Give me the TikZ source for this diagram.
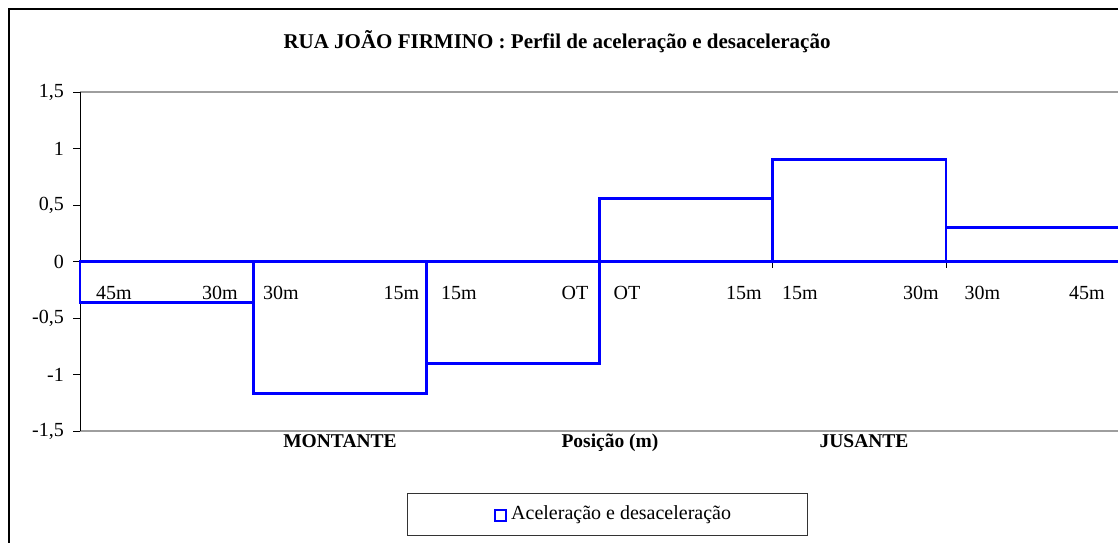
\documentclass[tikz,border=0pt]{standalone}
\usepackage{fontspec}
\setmainfont{Liberation Serif}
\begin{document}
\begin{tikzpicture}[x=1pt,y=-1pt,
  lbl/.style={font=\fontsize{20}{24}\selectfont, inner sep=0pt},
  axtitle/.style={font=\bfseries\fontsize{19.5}{23}\selectfont, inner sep=0pt, anchor=base},
  serie/.style={draw=blue, line width=2.8pt},
  grid/.style={draw=black!38, line width=1.4pt},
  axis/.style={draw=black, line width=1pt}]
\useasboundingbox (0,0) rectangle (1118,542);
\clip (0,0) rectangle (1118,542);
% outer frame
\draw[line width=1.5pt] (9,9) rectangle (1140,570);
% title
\node[font=\bfseries\fontsize{21}{25}\selectfont, inner sep=0pt] (title) at (557,42) {RUA JOÃO FIRMINO : Perfil de aceleração e desaceleração};
% plot area lines
\draw[grid] (80,92) -- (1125,92);
\draw[grid] (80,431) -- (1125,431);
\draw[axis] (80,92) -- (80,431);
% y ticks and labels
\foreach \v/\t in {1.5/{1,5},1/1,0.5/{0,5},0/0,-0.5/{-0,5},-1/-1,-1.5/{-1,5}}{
  \draw[axis] (73,261.5-113*\v) -- (80,261.5-113*\v);
  \node[lbl, anchor=east] at (64,261.5-113*\v) {\t};
}
% zero axis
\draw[axis] (80,262.5) -- (1125,262.5);
\foreach \i in {0,...,6}{
  \draw[axis] (80+173.2*\i,262.5) -- (80+173.2*\i,267.5);
}
% series
\foreach \i/\v in {0/-0.363,1/-1.165,2/-0.905,3/0.555,4/0.905,5/0.30}{
  \draw[serie] (80+173.2*\i,261.5) rectangle (80+173.2*\i+173.2,261.5-113*\v);
}
% category labels
\foreach \x/\t in {114/45m,220/30m,281/30m,401.5/15m,459/15m,575/OT,627/OT,744/15m,800/15m,921/30m,982.5/30m,1087/45m}{
  \node[lbl, anchor=base] at (\x,299.5) {\t};
}
% axis titles
\node[axtitle] (mont) at (340,447) {MONTANTE};
\node[axtitle] (pos) at (610,447) {Posição (m)};
\node[axtitle] (jus) at (864,447) {JUSANTE};
% legend
\node[draw=black!80, line width=0.9pt, minimum width=400pt, minimum height=42pt, inner sep=0pt] (leg) at (607.3,514.2) {};
\draw[draw=blue, line width=2pt] (495,509.5) rectangle (506,520.5);
\node[lbl, anchor=west] (legtxt) at (511,515) {Aceleração e desaceleração};
\end{tikzpicture}
\end{document}
